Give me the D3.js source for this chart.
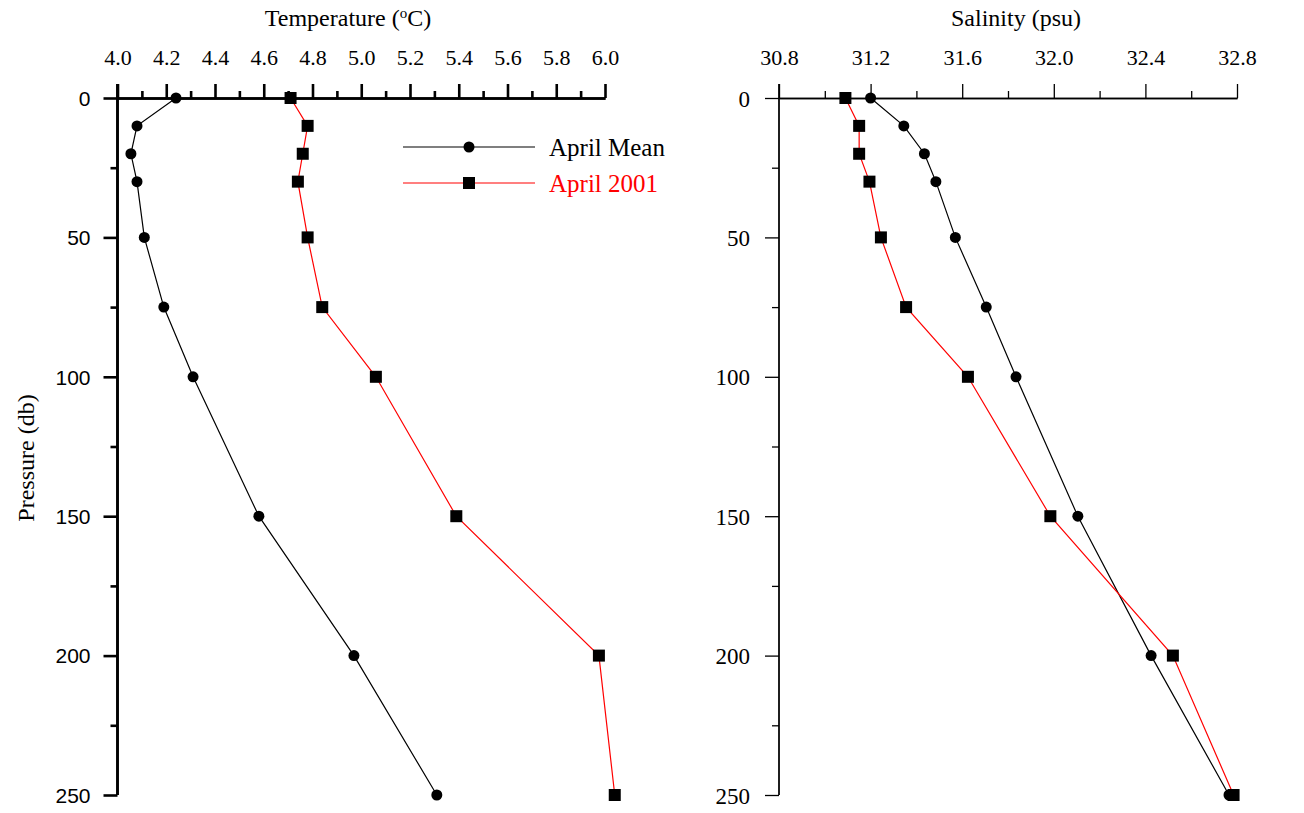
<!DOCTYPE html>
<html><head><meta charset="utf-8">
<script src="https://cdn.jsdelivr.net/npm/d3@7"></script>
<style>body{margin:0;background:#fff}svg{display:block}</style>
</head><body>
<svg id="c" width="1304" height="813"></svg>
<script>
const depths = [0, 10, 20, 30, 50, 75, 100, 150, 200, 250];
const tempMean = [4.24, 4.08, 4.055, 4.08, 4.11, 4.19, 4.31, 4.58, 4.97, 5.31];
const temp2001 = [4.71, 4.78, 4.76, 4.74, 4.78, 4.84, 5.06, 5.39, 5.975, 6.04];
const salMean = [31.2, 31.345, 31.435, 31.485, 31.57, 31.705, 31.835, 32.105, 32.425, 32.765];
const sal2001 = [31.09, 31.15, 31.15, 31.195, 31.245, 31.355, 31.625, 31.985, 32.52, 32.785];
const tempTicks = [4.0, 4.2, 4.4, 4.6, 4.8, 5.0, 5.2, 5.4, 5.6, 5.8, 6.0];
const tempMinor = [4.1, 4.3, 4.5, 4.7, 4.9, 5.1, 5.3, 5.5, 5.7, 5.9];
const salTicks = [30.8, 31.2, 31.6, 32.0, 32.4, 32.8];
const salMinor = [31.0, 31.4, 31.8, 32.2, 32.6];
const depthTicks = [0, 50, 100, 150, 200, 250];
const depthMinor = [25, 75, 125, 175, 225];
const seriesNames = ["April Mean", "April 2001"];

const svg = d3.select("#c");
const serif = "'Liberation Serif','Times New Roman',serif";
const sans = "'Liberation Sans',Arial,sans-serif";

const y = d3.scaleLinear().domain([0, 250]).range([98, 795]);

function panel(opts) {
  const x = d3.scaleLinear().domain(opts.domain).range(opts.range);
  const g = svg.append("g");
  const x0 = opts.range[0];
  const sw = opts.sw;
  const top = g.append("g").attr("transform", `translate(0,${y(0)})`)
    .call(d3.axisTop(x).tickValues(opts.ticks).tickSize(14).tickSizeOuter(0).tickFormat(d3.format(".1f")));
  const topMinor = g.append("g").attr("transform", `translate(0,${y(0)})`)
    .call(d3.axisTop(x).tickValues(opts.minor).tickSize(7).tickSizeOuter(0).tickFormat(""));
  [top, topMinor].forEach(a => {
    a.selectAll("path").attr("stroke", "#000").attr("stroke-width", sw);
    a.selectAll("line").attr("stroke", "#000").attr("stroke-width", sw);
  });
  top.selectAll("text").attr("font-family", serif).attr("font-size", opts.topFs).attr("fill", "#000")
    .attr("y", -opts.topLabelOff).attr("dy", 0);
  const left = g.append("g").attr("transform", `translate(${x0},0)`)
    .call(d3.axisLeft(y).tickValues(depthTicks).tickSize(14).tickSizeOuter(0).tickFormat(d3.format("d")));
  const leftMinor = g.append("g").attr("transform", `translate(${x0},0)`)
    .call(d3.axisLeft(y).tickValues(depthMinor).tickSize(7).tickSizeOuter(0).tickFormat(""));
  [left, leftMinor].forEach(a => {
    a.selectAll("path").attr("stroke", "#000").attr("stroke-width", sw).attr("d", `M0,84V${y(250)}`);
    a.selectAll("line").attr("stroke", "#000").attr("stroke-width", sw);
  });
  left.selectAll("text").attr("font-family", opts.leftFont).attr("font-size", opts.leftFs).attr("fill", "#000")
    .attr("x", -opts.leftLabelOff).attr("dy", "0.35em");
  const t = g.append("text").attr("x", opts.titleX).attr("y", 26).attr("text-anchor", "middle")
    .attr("font-family", serif).attr("font-size", 24).attr("fill", "#000");
  opts.title(t);
  const line = vals => d3.line().x((d, i) => x(vals[i])).y(d => y(d))(depths);
  g.append("path").attr("d", line(opts.mean)).attr("fill", "none").attr("stroke", "#000").attr("stroke-width", 1.2);
  g.append("path").attr("d", line(opts.y2001)).attr("fill", "none").attr("stroke", "#ff0000").attr("stroke-width", 1.2);
  g.selectAll("circle.m").data(depths).enter().append("circle")
    .attr("cx", (d, i) => x(opts.mean[i])).attr("cy", d => y(d)).attr("r", 5.5).attr("fill", "#000");
  g.selectAll("rect.s").data(depths).enter().append("rect")
    .attr("x", (d, i) => x(opts.y2001[i]) - 6).attr("y", d => y(d) - 6).attr("width", 12).attr("height", 12).attr("fill", "#000");
  return x;
}

panel({
  domain: [4, 6], range: [117.5, 605], ticks: tempTicks, minor: tempMinor, sw: 2.6,
  topFs: 22, topLabelOff: 33, leftFont: sans, leftFs: 21, leftLabelOff: 27,
  mean: tempMean, y2001: temp2001, titleX: 348,
  title: t => { t.append("tspan").text("Temperature ("); t.append("tspan").attr("font-size", 15).attr("dy", -8).text("o");
    t.append("tspan").attr("dy", 8).text("C)"); }
});
panel({
  domain: [30.8, 32.8], range: [779, 1237], ticks: salTicks, minor: salMinor, sw: 1.3,
  topFs: 22, topLabelOff: 33, leftFont: serif, leftFs: 23, leftLabelOff: 29,
  mean: salMean, y2001: sal2001, titleX: 1016,
  title: t => t.text("Salinity (psu)")
});

svg.append("text").attr("transform", "translate(34,458) rotate(-90)").attr("text-anchor", "middle")
  .attr("font-family", serif).attr("font-size", 24).attr("fill", "#000").text("Pressure (db)");

const leg = svg.append("g");
const legColors = ["#000", "#ff0000"];
seriesNames.forEach((n, i) => {
  const ly = 147 + i * 36;
  leg.append("line").attr("x1", 403).attr("x2", 535).attr("y1", ly).attr("y2", ly).attr("stroke", legColors[i]).attr("stroke-width", 1.2);
  if (i === 0) leg.append("circle").attr("cx", 469).attr("cy", ly).attr("r", 5.5).attr("fill", "#000");
  else leg.append("rect").attr("x", 463).attr("y", ly - 6).attr("width", 12).attr("height", 12).attr("fill", "#000");
  leg.append("text").attr("x", 549).attr("y", ly + 9).attr("font-family", serif).attr("font-size", 25)
    .attr("fill", legColors[i]).text(n);
});
</script>
</body></html>
